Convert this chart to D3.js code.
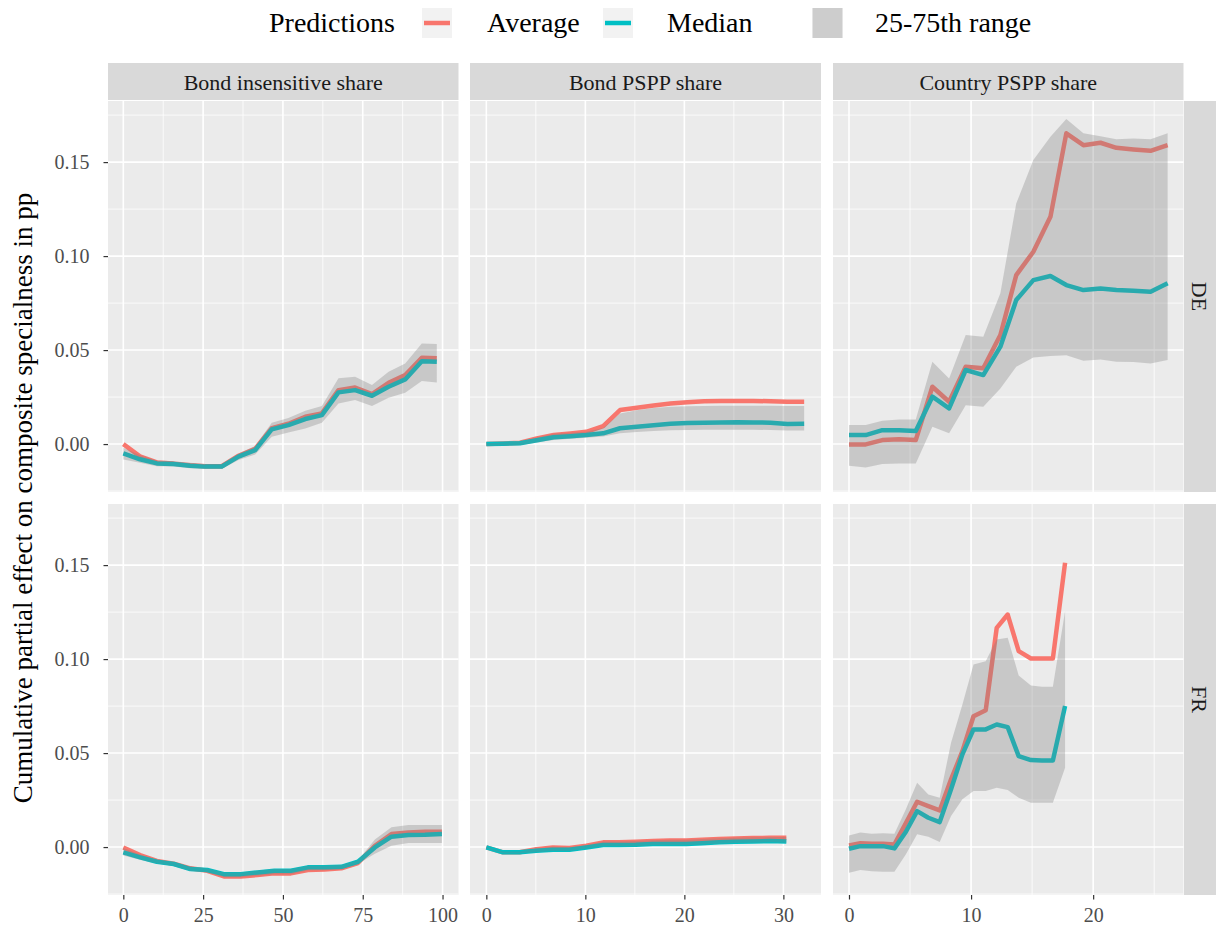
<!DOCTYPE html>
<html>
<head>
<meta charset="utf-8">
<script src="https://cdn.jsdelivr.net/npm/d3@7/dist/d3.min.js"></script>
<style>
	body { margin: 0; background: #fff; }
	svg { display: block; }
</style>
</head>
<body>
<div id="chart"></div>
<script>
// facets
var rowNames = ["DE", "FR"];
var colNames = ["Bond insensitive share", "Bond PSPP share", "Country PSPP share"];
var seriesNames = ["Average", "Median", "25-75th range"];

// tick labels
var yTicks = [0, 0.05, 0.10, 0.15];
var yMinor = [-0.025, 0.025, 0.075, 0.125, 0.175];
var xTicks = [[0, 25, 50, 75, 100], [0, 10, 20, 30], [0, 10, 20]];
var xMinor = [[12.5, 37.5, 62.5, 87.5], [5, 15, 25], [5, 15, 25]];

// DE - Bond insensitive share
var deInsX   = [0, 5.2, 10.5, 15.7, 20.9, 25.6, 30.8, 36.1, 41.3, 46.5, 51.7, 57.0, 62.2, 67.4, 72.6, 77.9, 83.1, 88.3, 93.5, 98.2];
var deInsAvg = [0.0000, -0.0065, -0.0098, -0.0104, -0.0113, -0.0118, -0.0118, -0.0062, -0.0026, 0.0085, 0.0108, 0.0145, 0.0163, 0.0287, 0.0301, 0.0266, 0.0326, 0.0367, 0.0459, 0.0456];
var deInsMed = [-0.0050, -0.0081, -0.0103, -0.0106, -0.0115, -0.0120, -0.0120, -0.0067, -0.0032, 0.0078, 0.0101, 0.0133, 0.0154, 0.0275, 0.0287, 0.0257, 0.0305, 0.0344, 0.0441, 0.0438];
var deInsLo  = [-0.0082, -0.0100, -0.0118, -0.0120, -0.0128, -0.0133, -0.0133, -0.0085, -0.0055, 0.0039, 0.0062, 0.0083, 0.0113, 0.0216, 0.0234, 0.0202, 0.0246, 0.0273, 0.0335, 0.0328];
var deInsHi  = [-0.0020, -0.0060, -0.0088, -0.0092, -0.0100, -0.0106, -0.0106, -0.0050, -0.0010, 0.0113, 0.0138, 0.0177, 0.0202, 0.0350, 0.0358, 0.0314, 0.0385, 0.0429, 0.0535, 0.0532];

// DE - Bond PSPP share
var deBondX   = [0, 1.7, 3.4, 5.1, 6.8, 8.5, 10.1, 11.8, 13.5, 15.2, 16.9, 18.6, 20.3, 22.0, 23.7, 25.4, 27.0, 28.7, 30.4, 32.1];
var deBondAvg = [0.0000, 0.0003, 0.0007, 0.0030, 0.0048, 0.0056, 0.0065, 0.0096, 0.0181, 0.0193, 0.0205, 0.0216, 0.0222, 0.0228, 0.0229, 0.0229, 0.0229, 0.0228, 0.0225, 0.0225];
var deBondMed = [0.0000, 0.0002, 0.0004, 0.0020, 0.0036, 0.0042, 0.0048, 0.0057, 0.0084, 0.0092, 0.0100, 0.0108, 0.0112, 0.0114, 0.0115, 0.0116, 0.0115, 0.0114, 0.0107, 0.0108];
var deBondLo  = [-0.0010, -0.0008, -0.0006, 0.0008, 0.0022, 0.0028, 0.0033, 0.0040, 0.0057, 0.0064, 0.0069, 0.0073, 0.0075, 0.0076, 0.0076, 0.0076, 0.0076, 0.0075, 0.0072, 0.0072];
var deBondHi  = [0.0005, 0.0008, 0.0012, 0.0035, 0.0055, 0.0060, 0.0065, 0.0085, 0.0163, 0.0180, 0.0192, 0.0198, 0.0201, 0.0203, 0.0204, 0.0204, 0.0204, 0.0204, 0.0203, 0.0203];

// DE - Country PSPP share
var deCtyX   = [0, 1.37, 2.73, 4.1, 5.47, 6.83, 8.2, 9.56, 11.0, 12.4, 13.7, 15.1, 16.5, 17.8, 19.2, 20.6, 21.9, 23.3, 24.7, 26.1];
var deCtyAvg = [-0.0002, -0.0002, 0.0021, 0.0025, 0.0021, 0.0305, 0.0225, 0.0411, 0.0403, 0.0580, 0.0899, 0.1023, 0.1209, 0.1653, 0.1590, 0.1603, 0.1576, 0.1567, 0.1560, 0.1590];
var deCtyMed = [0.0048, 0.0048, 0.0074, 0.0074, 0.0069, 0.0252, 0.0190, 0.0394, 0.0367, 0.0518, 0.0766, 0.0872, 0.0894, 0.0846, 0.0819, 0.0828, 0.0819, 0.0815, 0.0810, 0.0855];
var deCtyLo  = [-0.0115, -0.0124, -0.0106, -0.0103, -0.0103, 0.0092, 0.0057, 0.0207, 0.0198, 0.0296, 0.0411, 0.0461, 0.0468, 0.0473, 0.0443, 0.0450, 0.0438, 0.0436, 0.0429, 0.0447];
var deCtyHi  = [0.0101, 0.0101, 0.0124, 0.0131, 0.0131, 0.0438, 0.0349, 0.0580, 0.0571, 0.0802, 0.1280, 0.1511, 0.1635, 0.1729, 0.1653, 0.1638, 0.1621, 0.1626, 0.1621, 0.1653];

// FR - Bond insensitive share
var frInsX   = [0, 5.25, 10.5, 15.8, 21.0, 26.3, 31.5, 36.8, 42.0, 47.3, 52.5, 57.8, 63.0, 68.3, 73.5, 78.8, 84.0, 89.3, 94.5, 99.8];
var frInsAvg = [-0.0002, -0.0043, -0.0074, -0.0089, -0.0113, -0.0126, -0.0156, -0.0156, -0.0149, -0.0140, -0.0140, -0.0122, -0.0119, -0.0113, -0.0085, 0.0007, 0.0069, 0.0078, 0.0081, 0.0081];
var frInsMed = [-0.0028, -0.0055, -0.0078, -0.0090, -0.0117, -0.0122, -0.0144, -0.0144, -0.0135, -0.0126, -0.0126, -0.0108, -0.0108, -0.0105, -0.0078, -0.0002, 0.0055, 0.0064, 0.0065, 0.0069];
var frInsLo  = [-0.0045, -0.0068, -0.0088, -0.0100, -0.0127, -0.0134, -0.0160, -0.0160, -0.0152, -0.0145, -0.0145, -0.0125, -0.0123, -0.0120, -0.0090, -0.0036, 0.0007, 0.0021, 0.0021, 0.0021];
var frInsHi  = [-0.0005, -0.0040, -0.0068, -0.0080, -0.0105, -0.0114, -0.0135, -0.0135, -0.0125, -0.0117, -0.0117, -0.0100, -0.0099, -0.0096, -0.0070, 0.0040, 0.0105, 0.0117, 0.0118, 0.0118];

// FR - Bond PSPP share
var frBondX   = [0, 1.68, 3.36, 5.04, 6.72, 8.4, 10.1, 11.8, 13.4, 15.1, 16.8, 18.5, 20.2, 21.8, 23.5, 25.2, 26.9, 28.6, 30.3];
var frBondAvg = [-0.0002, -0.0028, -0.0028, -0.0011, -0.0002, -0.0005, 0.0007, 0.0025, 0.0025, 0.0028, 0.0032, 0.0035, 0.0035, 0.0039, 0.0043, 0.0046, 0.0048, 0.0049, 0.0049];
var frBondMed = [-0.0002, -0.0028, -0.0028, -0.0020, -0.0014, -0.0014, -0.0002, 0.0011, 0.0011, 0.0012, 0.0016, 0.0016, 0.0016, 0.0020, 0.0025, 0.0028, 0.0030, 0.0032, 0.0030];
var frBondLo  = [-0.0008, -0.0034, -0.0034, -0.0027, -0.0021, -0.0021, -0.0009, 0.0004, 0.0004, 0.0005, 0.0009, 0.0009, 0.0009, 0.0013, 0.0018, 0.0021, 0.0023, 0.0025, 0.0023];
var frBondHi  = [0.0002, -0.0024, -0.0024, -0.0007, 0.0002, -0.0001, 0.0011, 0.0029, 0.0029, 0.0032, 0.0036, 0.0039, 0.0039, 0.0043, 0.0047, 0.0050, 0.0052, 0.0053, 0.0053];

// FR - Country PSPP share
var frCtyX   = [0, 0.93, 1.86, 2.79, 3.72, 4.65, 5.58, 6.5, 7.43, 8.36, 9.29, 10.2, 11.2, 12.1, 13.0, 13.9, 14.9, 15.8, 16.7, 17.7];
var frCtyAvg = [0.0009, 0.0020, 0.0018, 0.0018, 0.0014, 0.0126, 0.0241, 0.0218, 0.0195, 0.0360, 0.0510, 0.0696, 0.0728, 0.1166, 0.1237, 0.1042, 0.1003, 0.1003, 0.1003, 0.1512];
var frCtyMed = [-0.0009, 0.0005, 0.0005, 0.0005, -0.0007, 0.0080, 0.0191, 0.0156, 0.0133, 0.0307, 0.0493, 0.0626, 0.0626, 0.0652, 0.0638, 0.0484, 0.0463, 0.0460, 0.0460, 0.0750];
var frCtyLo  = [-0.0136, -0.0122, -0.0128, -0.0131, -0.0131, -0.0039, 0.0068, 0.0055, 0.0027, 0.0165, 0.0254, 0.0298, 0.0298, 0.0316, 0.0303, 0.0263, 0.0236, 0.0236, 0.0236, 0.0422];
var frCtyHi  = [0.0062, 0.0077, 0.0071, 0.0073, 0.0071, 0.0200, 0.0342, 0.0280, 0.0263, 0.0555, 0.0759, 0.0971, 0.0989, 0.1104, 0.1113, 0.0913, 0.0860, 0.0853, 0.0853, 0.1255];

var panels = [
	{ row: 0, col: 0, x: deInsX, avg: deInsAvg, med: deInsMed, lo: deInsLo, hi: deInsHi },
	{ row: 0, col: 1, x: deBondX, avg: deBondAvg, med: deBondMed, lo: deBondLo, hi: deBondHi },
	{ row: 0, col: 2, x: deCtyX, avg: deCtyAvg, med: deCtyMed, lo: deCtyLo, hi: deCtyHi },
	{ row: 1, col: 0, x: frInsX, avg: frInsAvg, med: frInsMed, lo: frInsLo, hi: frInsHi },
	{ row: 1, col: 1, x: frBondX, avg: frBondAvg, med: frBondMed, lo: frBondLo, hi: frBondHi },
	{ row: 1, col: 2, x: frCtyX, avg: frCtyAvg, med: frCtyMed, lo: frCtyLo, hi: frCtyHi }
];

var width = 1216,
	height = 934,
	fontFamily = "'Palatino Linotype', 'Book Antiqua', Palatino, 'Liberation Serif', serif",
	colLeft = [108, 470, 833],
	colRight = [458.5, 821, 1183.5],
	rowTop = [101, 504],
	rowBottom = [492, 895],
	stripTop = 63,
	stripRight = 1216,
	avgColor = "#F8766D",
	medColor = "#00BFC4",
	bandColor = "#7f7f7f",
	bandOpacity = 0.32,
	lineWidth = 4.5;

var yDomain = [-0.0255, 0.1825];
var xDomains = [[-4.8, 105], [-1.65, 33.8], [-1.31, 27.4]];

var svg = d3.select("#chart").append("svg")
	.attr("width", width)
	.attr("height", height)
	.style("font-family", fontFamily);

var yScales = rowNames.map(function(d, i) {
	return d3.scaleLinear().domain(yDomain).range([rowBottom[i], rowTop[i]]);
});
var xScales = colNames.map(function(d, i) {
	return d3.scaleLinear().domain(xDomains[i]).range([colLeft[i], colRight[i]]);
});

// panel backgrounds and grid
rowNames.forEach(function(r, ri) {
	colNames.forEach(function(c, ci) {
		var x = xScales[ci], y = yScales[ri];
		var g = svg.append("g");
		g.append("rect")
			.attr("x", colLeft[ci])
			.attr("y", rowTop[ri])
			.attr("width", colRight[ci] - colLeft[ci])
			.attr("height", rowBottom[ri] - rowTop[ri])
			.style("fill", "#ebebeb");
		g.selectAll(".ymin").data(yMinor).enter().append("line")
			.attr("x1", colLeft[ci]).attr("x2", colRight[ci])
			.attr("y1", function(d) { return y(d); })
			.attr("y2", function(d) { return y(d); })
			.style("stroke", "#fff").style("stroke-width", 0.8);
		g.selectAll(".xmin").data(xMinor[ci]).enter().append("line")
			.attr("y1", rowTop[ri]).attr("y2", rowBottom[ri])
			.attr("x1", function(d) { return x(d); })
			.attr("x2", function(d) { return x(d); })
			.style("stroke", "#fff").style("stroke-width", 0.8);
		g.selectAll(".ymaj").data(yTicks).enter().append("line")
			.attr("x1", colLeft[ci]).attr("x2", colRight[ci])
			.attr("y1", function(d) { return y(d); })
			.attr("y2", function(d) { return y(d); })
			.style("stroke", "#fff").style("stroke-width", 1.6);
		g.selectAll(".xmaj").data(xTicks[ci]).enter().append("line")
			.attr("y1", rowTop[ri]).attr("y2", rowBottom[ri])
			.attr("x1", function(d) { return x(d); })
			.attr("x2", function(d) { return x(d); })
			.style("stroke", "#fff").style("stroke-width", 1.6);
	});
});

// lines and ribbons
panels.forEach(function(p) {
	var x = xScales[p.col], y = yScales[p.row];
	var idx = d3.range(p.x.length);
	var g = svg.append("g");

	function series(values, color) {
		g.append("path")
			.datum(idx)
			.attr("d", d3.line()
				.x(function(i) { return x(p.x[i]); })
				.y(function(i) { return y(values[i]); }))
			.style("fill", "none")
			.style("stroke", color)
			.style("stroke-width", lineWidth)
			.style("stroke-linejoin", "round");
	}

	series(p.avg, avgColor);
	series(p.med, medColor);

	g.append("path")
		.datum(idx)
		.attr("d", d3.area()
			.x(function(i) { return x(p.x[i]); })
			.y0(function(i) { return y(p.lo[i]); })
			.y1(function(i) { return y(p.hi[i]); }))
		.style("fill", bandColor)
		.style("fill-opacity", bandOpacity);
});

// column strips
colNames.forEach(function(c, ci) {
	svg.append("rect")
		.attr("x", colLeft[ci])
		.attr("y", stripTop)
		.attr("width", colRight[ci] - colLeft[ci])
		.attr("height", rowTop[0] - 1 - stripTop)
		.style("fill", "#d9d9d9");
	svg.append("text")
		.attr("x", (colLeft[ci] + colRight[ci]) / 2)
		.attr("y", (stripTop + rowTop[0]) / 2)
		.attr("dy", "0.35em")
		.style("text-anchor", "middle")
		.style("font-size", "22px")
		.style("fill", "#1a1a1a")
		.text(c);
});

// row strips
rowNames.forEach(function(r, ri) {
	svg.append("rect")
		.attr("x", colRight[2] + 0.5)
		.attr("y", rowTop[ri])
		.attr("width", stripRight - colRight[2] - 0.5)
		.attr("height", rowBottom[ri] - rowTop[ri])
		.style("fill", "#d9d9d9");
	var cx = (colRight[2] + stripRight) / 2, cy = (rowTop[ri] + rowBottom[ri]) / 2;
	svg.append("text")
		.attr("transform", "translate(" + cx + "," + cy + ") rotate(90)")
		.attr("dy", "0.35em")
		.style("text-anchor", "middle")
		.style("font-size", "22px")
		.style("fill", "#1a1a1a")
		.text(r);
});

// axes
rowNames.forEach(function(r, ri) {
	var axis = d3.axisLeft(yScales[ri])
		.tickValues(yTicks)
		.tickSize(4.5)
		.tickPadding(14)
		.tickFormat(d3.format(".2f"));
	var ag = svg.append("g")
		.attr("transform", "translate(" + colLeft[0] + ",0)")
		.call(axis);
	ag.select(".domain").remove();
	ag.selectAll("line").style("stroke", "#333").style("stroke-width", 1.2);
	ag.selectAll("text")
		.style("font-family", fontFamily)
		.style("font-size", "20px")
		.style("fill", "#4d4d4d");
});

colNames.forEach(function(c, ci) {
	var axis = d3.axisBottom(xScales[ci])
		.tickValues(xTicks[ci])
		.tickSize(4.5)
		.tickPadding(8)
		.tickFormat(d3.format("d"));
	var ag = svg.append("g")
		.attr("transform", "translate(0," + rowBottom[1] + ")")
		.call(axis);
	ag.select(".domain").remove();
	ag.selectAll("line").style("stroke", "#333").style("stroke-width", 1.2);
	ag.selectAll("text")
		.style("font-family", fontFamily)
		.style("font-size", "20px")
		.style("fill", "#4d4d4d");
});

// y title
svg.append("text")
	.attr("transform", "translate(23," + (rowTop[0] + rowBottom[1]) / 2 + ") rotate(-90)")
	.attr("dy", "0.35em")
	.style("text-anchor", "middle")
	.style("font-size", "27px")
	.style("fill", "#000")
	.text("Cumulative partial effect on composite specialness in pp");

// legend
var legend = svg.append("g");
legend.append("text")
	.attr("x", 269).attr("y", 32)
	.style("font-size", "28px")
	.text("Predictions");

var legendItems = [
	{ name: seriesNames[0], keyX: 422, textX: 487, type: "line", color: avgColor },
	{ name: seriesNames[1], keyX: 603, textX: 667, type: "line", color: medColor },
	{ name: seriesNames[2], keyX: 812.5, textX: 875, type: "fill", color: bandColor }
];

legendItems.forEach(function(d) {
	legend.append("rect")
		.attr("x", d.keyX).attr("y", 8)
		.attr("width", 30).attr("height", 30)
		.style("fill", "#f2f2f2");
	if (d.type === "line") {
		legend.append("line")
			.attr("x1", d.keyX + 2).attr("x2", d.keyX + 28)
			.attr("y1", 23).attr("y2", 23)
			.style("stroke", d.color)
			.style("stroke-width", lineWidth);
	} else {
		legend.append("rect")
			.attr("x", d.keyX).attr("y", 8)
			.attr("width", 30).attr("height", 30)
			.style("fill", d.color)
			.style("fill-opacity", bandOpacity);
	}
	legend.append("text")
		.attr("x", d.textX).attr("y", 32)
		.style("font-size", "28px")
		.text(d.name);
});
</script>
</body>
</html>
